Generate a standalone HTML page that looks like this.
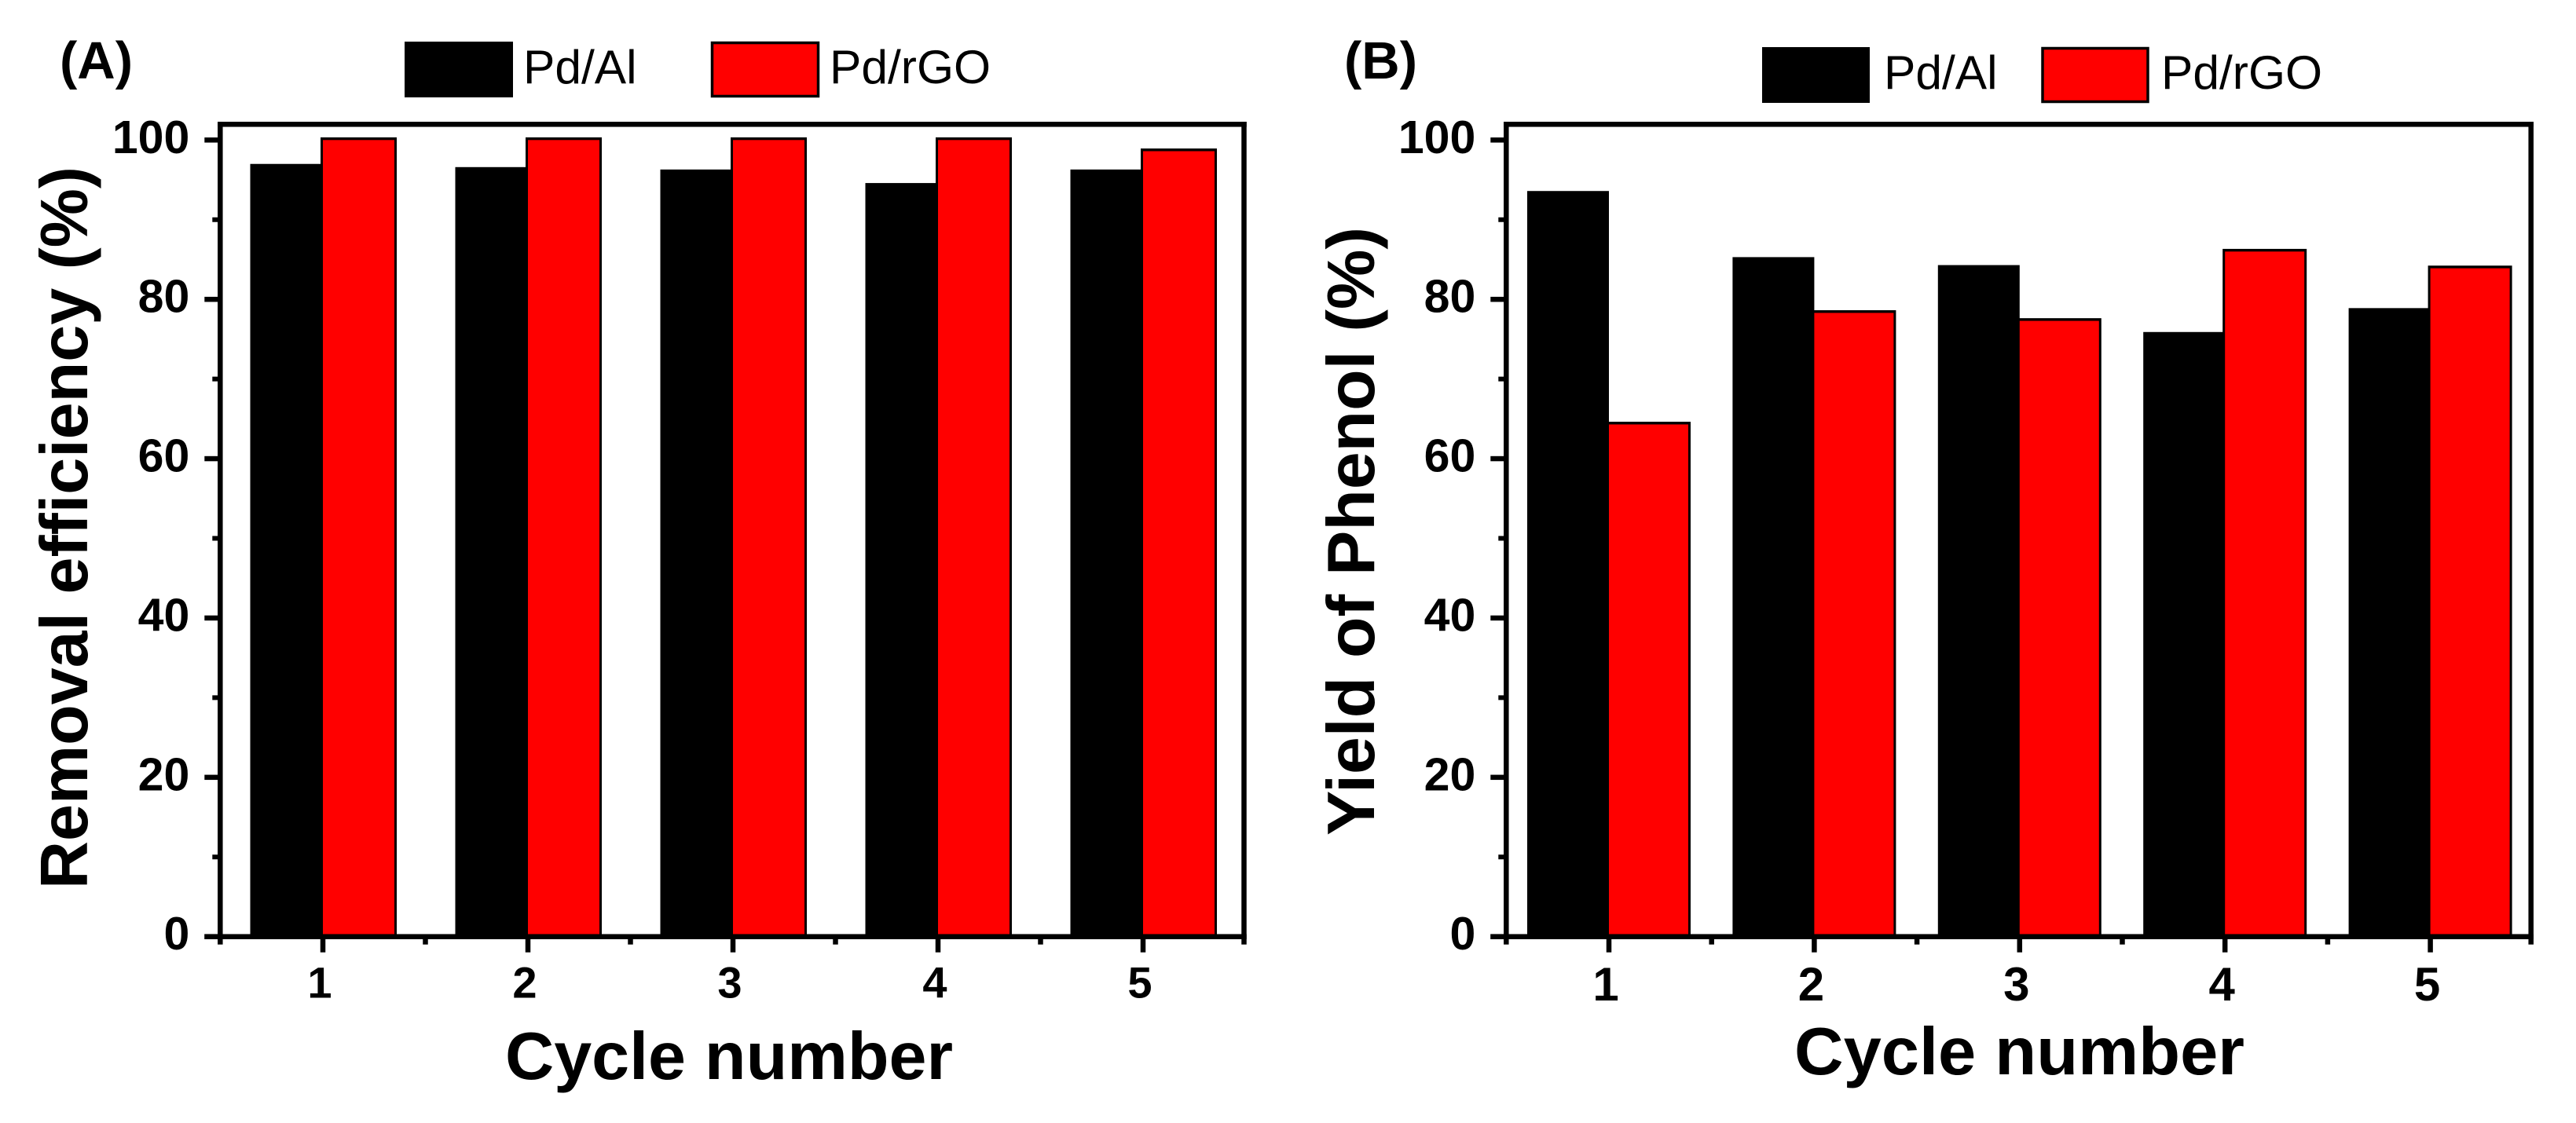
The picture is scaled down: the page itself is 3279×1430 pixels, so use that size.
<!DOCTYPE html>
<html lang="en">
<head>
<meta charset="utf-8">
<title>Pd/Al and Pd/rGO recycling performance</title>
<style>
  html, body { margin: 0; padding: 0; background: #fff; }
  svg { display: block; }
  text { font-family: "Liberation Sans", Arial, sans-serif; fill: #000; }
  .tick { font-size: 59px; font-weight: bold; }
  .legend { font-size: 60.5px; }
  .title { font-size: 85px; font-weight: bold; }
  .panel { font-size: 67px; font-weight: bold; }
</style>
</head>
<body>
<svg id="chart" xmlns="http://www.w3.org/2000/svg" width="3279" height="1430" viewBox="0 0 3279 1430">
  <rect x="0" y="0" width="3279" height="1430" fill="#fff"/>

  <g id="panel-a"></g>
  <g id="panel-b"></g>

  <text class="panel" x="76" y="100">(A)</text>
  <text class="panel" x="1711" y="100">(B)</text>

  <g>
    <rect x="515" y="53" width="138" height="71" fill="#000"/>
    <text class="legend" x="666" y="106">Pd/Al</text>
    <rect x="906.5" y="54.5" width="135" height="68" fill="#f00" stroke="#000" stroke-width="3.5"/>
    <text class="legend" x="1056" y="106">Pd/rGO</text>
  </g>

  <g>
    <rect x="2243" y="60" width="137" height="71" fill="#000"/>
    <text class="legend" x="2398" y="113">Pd/Al</text>
    <rect x="2600" y="61.5" width="134" height="68" fill="#f00" stroke="#000" stroke-width="3.5"/>
    <text class="legend" x="2751" y="113">Pd/rGO</text>
  </g>

  <text class="title" x="643" y="1374" textLength="570" lengthAdjust="spacingAndGlyphs">Cycle number</text>
  <text class="title" x="2284" y="1368" textLength="573" lengthAdjust="spacingAndGlyphs">Cycle number</text>
  <text class="title" transform="translate(111 1132) rotate(-90)" textLength="920" lengthAdjust="spacingAndGlyphs">Removal efficiency (%)</text>
  <text class="title" transform="translate(1749 1064) rotate(-90)" textLength="775" lengthAdjust="spacingAndGlyphs">Yield of Phenol (%)</text>
</svg>

<script>
const cycles = [1, 2, 3, 4, 5];
const yTickValues = [0, 20, 40, 60, 80, 100];
const yMinorValues = [10, 30, 50, 70, 90];
const removalPdAl = [97.0, 96.6, 96.3, 94.6, 96.3];
const removalPdRgo = [100, 100, 100, 100, 98.6];
const yieldPdAl = [93.6, 85.3, 84.3, 75.9, 78.9];
const yieldPdRgo = [64.3, 78.3, 77.3, 86.0, 83.9];

const SVG_NS = 'http://www.w3.org/2000/svg';

function yScale(v) {
  return 1192.7 - v * 10.144;
}
function xScaleA(c) {
  return 411 + (c - 1) * 261;
}
function xScaleB(c) {
  return 2048 + (c - 1) * 261.4;
}

function rect(parent, x, y, w, h, fill) {
  const el = document.createElementNS(SVG_NS, 'rect');
  el.setAttribute('x', x);
  el.setAttribute('y', y);
  el.setAttribute('width', w);
  el.setAttribute('height', h);
  el.setAttribute('fill', fill);
  parent.appendChild(el);
  return el;
}

function label(parent, x, y, str, anchor, size) {
  const el = document.createElementNS(SVG_NS, 'text');
  el.setAttribute('class', 'tick');
  el.setAttribute('x', x);
  el.setAttribute('y', y);
  el.setAttribute('text-anchor', anchor);
  el.setAttribute('font-size', size);
  el.style.fontSize = size + 'px';
  el.textContent = str;
  parent.appendChild(el);
  return el;
}

function drawPanel(rootId, xScale, blackVals, redVals, geo) {
  const root = document.getElementById(rootId);
  const lw = 6.5;
  const yBase = yScale(0);
  const yTop = 158.3;

  cycles.forEach(function (c, i) {
    const cx = xScale(c);
    const blackBar = rect(root, cx - geo.blackWidth, yScale(blackVals[i]), geo.blackWidth, yBase - yScale(blackVals[i]), '#000');
    
    

    const redOutline = rect(root, cx - 3, yScale(redVals[i]) - 3.4, geo.redWidth + 6, yBase - yScale(redVals[i]) + 3.4, '#000');
    
    

    const redBar = rect(root, cx, yScale(redVals[i]), geo.redWidth, yBase - yScale(redVals[i]), '#f00');
    
    
  });

  const leftSpine = rect(root, geo.left - lw / 2, yTop - lw / 2, lw, yBase - yTop + lw / 2 + 10, '#000');
  
  

  const rightSpine = rect(root, geo.right - lw / 2, yTop - lw / 2, lw, yBase - yTop + lw / 2 + 10, '#000');
  
  

  const topSpine = rect(root, geo.left - lw / 2, yTop - lw / 2, geo.right - geo.left + lw, lw, '#000');
  
  

  const bottomSpine = rect(root, geo.left - 20, yBase - lw / 2, geo.right - geo.left + 20 + lw / 2, lw, '#000');
  
  

  yTickValues.forEach(function (v) {
    const tick = rect(root, geo.left - 20, yScale(v) - lw / 2, 20, lw, '#000');
    
    

    const text = label(root, geo.left - 39, yScale(v) + 16.5, String(v), 'end', 59);
    
    
  });

  yMinorValues.forEach(function (v) {
    const tick = rect(root, geo.left - 10, yScale(v) - 3, 10, 6, '#000');
    
    
  });

  cycles.forEach(function (c) {
    const cx = xScale(c);
    const tick = rect(root, cx - lw / 2, yBase, lw, 20, '#000');
    
    

    const text = label(root, cx - 4, geo.xLabelBase, String(c), 'middle', geo.xLabelSize);
    
    

    if (c < cycles.length) {
      const minor = rect(root, xScale(c + 0.5) - lw / 2, yBase, lw, 10, '#000');
      
      
    }
  });
}

drawPanel('panel-a', xScaleA, removalPdAl, removalPdRgo, {
  left: 280.3, right: 1583.5, blackWidth: 92.5, redWidth: 91, xLabelBase: 1270.5, xLabelSize: 56
});
drawPanel('panel-b', xScaleB, yieldPdAl, yieldPdRgo, {
  left: 1917.3, right: 3221.7, blackWidth: 104, redWidth: 101, xLabelBase: 1274, xLabelSize: 60
});
</script>
</body>
</html>
